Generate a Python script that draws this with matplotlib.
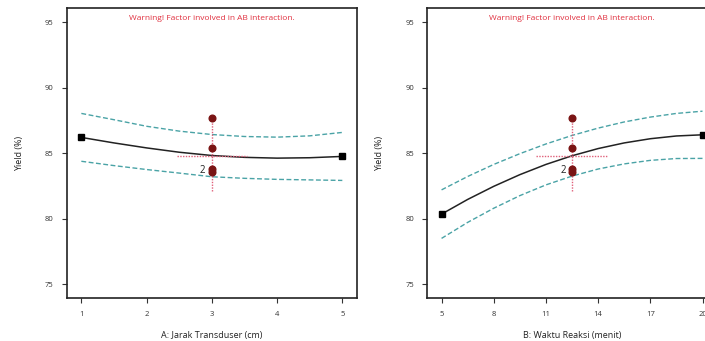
import matplotlib
matplotlib.use("Agg")
import matplotlib.pyplot as plt

plt.rcParams['font.family'] = ['Open Sans', 'DejaVu Sans']

# ---- Data: left plot (A: Jarak Transduser) ----
a_x = [1, 1.5, 2, 2.5, 3, 3.5, 4, 4.5, 5]
a_pred = [86.20, 85.78, 85.40, 85.07, 84.82, 84.68, 84.62, 84.65, 84.75]
a_upper = [88.03, 87.55, 87.05, 86.68, 86.42, 86.27, 86.22, 86.32, 86.58]
a_lower = [84.38, 84.05, 83.75, 83.48, 83.20, 83.08, 83.00, 82.96, 82.92]
a_center = 3
a_ticks = [1, 2, 3, 4, 5]

# ---- Data: right plot (B: Waktu Reaksi) ----
b_x = [5, 6.5, 8, 9.5, 11, 12.5, 14, 15.5, 17, 18.5, 20]
b_pred = [80.35, 81.47, 82.47, 83.36, 84.14, 84.80, 85.35, 85.78, 86.10, 86.31, 86.40]
b_upper = [82.20, 83.22, 84.14, 84.96, 85.70, 86.35, 86.91, 87.38, 87.75, 88.03, 88.20]
b_lower = [78.50, 79.72, 80.80, 81.76, 82.58, 83.25, 83.79, 84.18, 84.45, 84.59, 84.60]
b_center = 12.5
b_ticks = [5, 8, 11, 14, 17, 20]

# design points at the center
design_y = [87.67, 85.36, 83.76, 83.53]
center_pred = 84.8
vbar = [82.1, 87.67]

y_ticks = [75, 80, 85, 90, 95]

fig = plt.figure(figsize=(7.05, 3.41), dpi=100)
W, H = 705, 341

def make_ax(left_px, xlim):
    ax = fig.add_axes([left_px / W, 1 - 298.3 / H, 290 / W, 290.3 / H])
    ax.set_xlim(*xlim)
    ax.set_ylim(73.93, 96.07)
    return ax

teal = '#4aa3a6'
dotred = '#e0607a'
ptred = '#7a1414'

def draw(ax, xs, pred, up, lo, center, half_h, ticks, xlabel, ylabel_x):
    ax.plot(xs, up, ls=(0, (3.5, 1.8)), color=teal, lw=1.0)
    ax.plot(xs, lo, ls=(0, (3.5, 1.8)), color=teal, lw=1.0)
    ax.plot(xs, pred, color='#222222', lw=1.1)
    ax.plot([xs[0], xs[-1]], [pred[0], pred[-1]], ls='none', marker='s',
            ms=5, color='black')
    ax.plot([center, center], vbar, ls=(0, (1, 1)), color=dotred, lw=1.0)
    ax.plot([center - half_h, center + half_h], [center_pred, center_pred],
            ls=(0, (1, 1)), color=dotred, lw=1.0)
    ax.plot([center] * len(design_y), design_y, ls='none', marker='o', ms=4.8,
            color=ptred)
    ax.annotate('2', (center, design_y[3]), xytext=(-6.5, 1.5),
                textcoords='offset points', fontsize=7, ha='center',
                va='center', color='#222222')
    ax.set_xticks(ticks)
    ax.set_xticklabels([str(t) for t in ticks])
    ax.set_yticks(y_ticks)
    ax.tick_params(direction='out', length=3.5, width=0.8, labelsize=5.5,
                   colors='#333333', pad=6)
    for s in ax.spines.values():
        s.set_linewidth(1.2)
        s.set_color('#222222')
    ax.set_xlabel(xlabel, fontsize=6.5, color='#222222', labelpad=9)
    ax.text(0.5, 0.965, 'Warning! Factor involved in AB interaction.',
            transform=ax.transAxes, ha='center', va='center', fontsize=6,
            color='#e0303f')
    fig.text(ylabel_x / W, 1 - 153 / H, 'Yield (%)', rotation=90,
             ha='center', va='center', fontsize=6.5, color='#222222')

ax1 = make_ax(67, (0.78, 5.225))
draw(ax1, a_x, a_pred, a_upper, a_lower, a_center, 0.54, a_ticks,
     'A: Jarak Transduser (cm)', 20)

ax2 = make_ax(427.3, (4.18, 20.85))
draw(ax2, b_x, b_pred, b_upper, b_lower, b_center, 2.05, b_ticks,
     'B: Waktu Reaksi (menit)', 380)

fig.savefig('out.png', dpi=100)
